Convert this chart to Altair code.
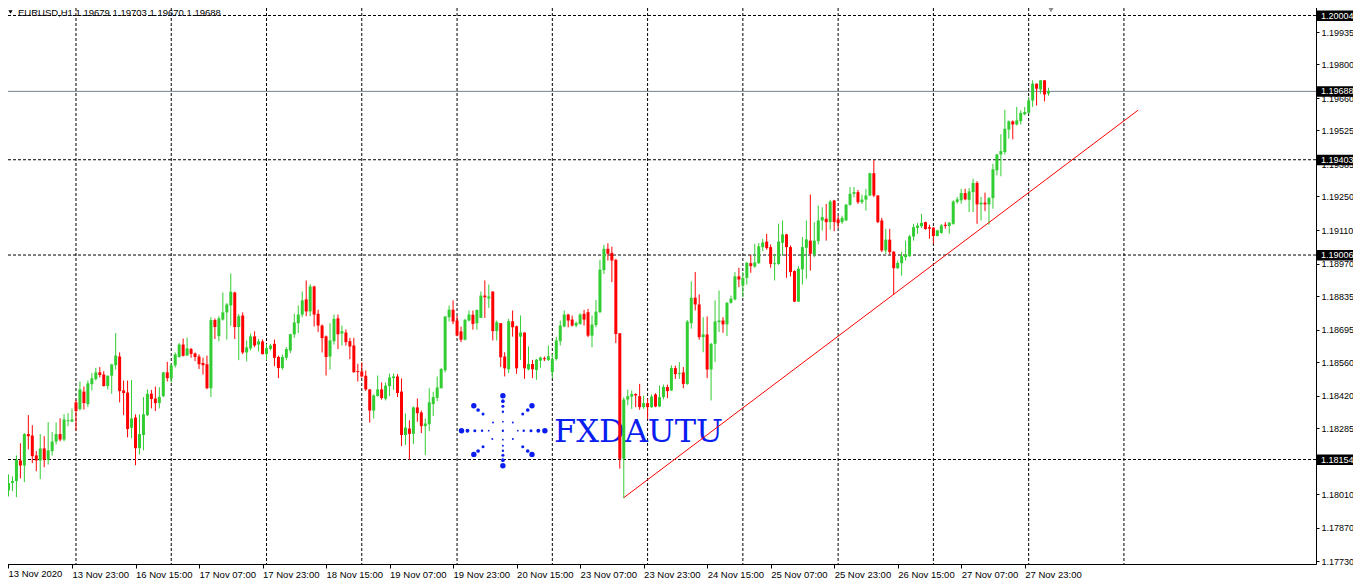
import altair as alt
import pandas as pd

# ---------------- data (EURUSD H1) ----------------
opens = [
    1.18025, 1.18056, 1.18064, 1.18150, 1.18129, 1.18260, 1.18254, 1.18171, 1.18150, 1.18200,
    1.18153, 1.18189, 1.18229, 1.18260, 1.18237, 1.18314, 1.18312, 1.18392, 1.18364, 1.18437,
    1.18385, 1.18468, 1.18489, 1.18517, 1.18508, 1.18460, 1.18503, 1.18547, 1.18583, 1.18442,
    1.18433, 1.18286, 1.18329, 1.18201, 1.18256, 1.18339, 1.18428, 1.18408, 1.18389, 1.18418,
    1.18517, 1.18492, 1.18546, 1.18581, 1.18633, 1.18587, 1.18614, 1.18596, 1.18583, 1.18556,
    1.18551, 1.18451, 1.18735, 1.18668, 1.18737, 1.18767, 1.18796, 1.18850, 1.18706, 1.18754,
    1.18600, 1.18617, 1.18667, 1.18633, 1.18646, 1.18593, 1.18615, 1.18636, 1.18581, 1.18535,
    1.18578, 1.18608, 1.18675, 1.18722, 1.18758, 1.18821, 1.18771, 1.18875, 1.18761, 1.18712,
    1.18667, 1.18583, 1.18647, 1.18742, 1.18679, 1.18683, 1.18647, 1.18629, 1.18522, 1.18521,
    1.18503, 1.18446, 1.18358, 1.18418, 1.18446, 1.18407, 1.18460, 1.18493, 1.18500, 1.18437,
    1.18256, 1.18283, 1.18261, 1.18371, 1.18350, 1.18293, 1.18301, 1.18385, 1.18411, 1.18451,
    1.18526, 1.18747, 1.18778, 1.18733, 1.18688, 1.18653, 1.18733, 1.18757, 1.18722, 1.18744,
    1.18837, 1.18825, 1.18854, 1.18689, 1.18722, 1.18583, 1.18530, 1.18730, 1.18709, 1.18666,
    1.18683, 1.18530, 1.18552, 1.18527, 1.18566, 1.18576, 1.18569, 1.18518, 1.18573, 1.18647,
    1.18708, 1.18758, 1.18737, 1.18712, 1.18719, 1.18761, 1.18768, 1.18670, 1.18714, 1.18768,
    1.18943, 1.19032, 1.19015, 1.18986, 1.18680, 1.18157, 1.18404, 1.18416, 1.18427, 1.18418,
    1.18372, 1.18389, 1.18372, 1.18425, 1.18375, 1.18414, 1.18456, 1.18442, 1.18535, 1.18510,
    1.18517, 1.18469, 1.18722, 1.18828, 1.18800, 1.18664, 1.18675, 1.18529, 1.18636, 1.18726,
    1.18733, 1.18717, 1.18807, 1.18821, 1.18917, 1.18879, 1.18911, 1.18972, 1.18958, 1.18972,
    1.19039, 1.19062, 1.19039, 1.18968, 1.18969, 1.19057, 1.19092, 1.19039, 1.18939, 1.18812,
    1.18946, 1.19036, 1.19066, 1.19008, 1.19064, 1.19150, 1.19157, 1.19143, 1.19233, 1.19154,
    1.19143, 1.19150, 1.19215, 1.19261, 1.19268, 1.19226, 1.19237, 1.19254, 1.19347, 1.19254,
    1.19150, 1.19025, 1.19070, 1.19020, 1.18951, 1.18972, 1.18997, 1.19001, 1.19083, 1.19119,
    1.19126, 1.19143, 1.19122, 1.19120, 1.19085, 1.19098, 1.19132, 1.19127, 1.19136, 1.19227,
    1.19234, 1.19264, 1.19236, 1.19268, 1.19306, 1.19217, 1.19224, 1.19217, 1.19243, 1.19359,
    1.19425, 1.19435, 1.19529, 1.19563, 1.19550, 1.19564, 1.19592, 1.19599, 1.19650, 1.19720,
    1.19696, 1.19734, 1.19679,
]
highs = [
    1.18092, 1.18083, 1.18171, 1.18222, 1.18264, 1.18339, 1.18297, 1.18189, 1.18260, 1.18251,
    1.18310, 1.18268, 1.18308, 1.18326, 1.18343, 1.18347, 1.18367, 1.18403, 1.18479, 1.18458,
    1.18483, 1.18514, 1.18536, 1.18539, 1.18522, 1.18504, 1.18553, 1.18681, 1.18600, 1.18483,
    1.18483, 1.18485, 1.18342, 1.18342, 1.18414, 1.18446, 1.18444, 1.18458, 1.18455, 1.18519,
    1.18561, 1.18553, 1.18600, 1.18639, 1.18658, 1.18662, 1.18619, 1.18600, 1.18592, 1.18578,
    1.18587, 1.18747, 1.18742, 1.18751, 1.18850, 1.18806, 1.18929, 1.18853, 1.18760, 1.18767,
    1.18650, 1.18679, 1.18688, 1.18657, 1.18654, 1.18636, 1.18636, 1.18654, 1.18587, 1.18592,
    1.18622, 1.18678, 1.18761, 1.18796, 1.18854, 1.18900, 1.18885, 1.18878, 1.18778, 1.18717,
    1.18671, 1.18722, 1.18758, 1.18758, 1.18712, 1.18696, 1.18661, 1.18661, 1.18553, 1.18558,
    1.18525, 1.18448, 1.18425, 1.18504, 1.18475, 1.18475, 1.18512, 1.18512, 1.18510, 1.18492,
    1.18346, 1.18317, 1.18375, 1.18408, 1.18358, 1.18325, 1.18451, 1.18436, 1.18500, 1.18535,
    1.18751, 1.18796, 1.18817, 1.18753, 1.18708, 1.18740, 1.18775, 1.18775, 1.18779, 1.18854,
    1.18900, 1.18883, 1.18854, 1.18733, 1.18722, 1.18601, 1.18740, 1.18775, 1.18712, 1.18754,
    1.18683, 1.18625, 1.18569, 1.18573, 1.18583, 1.18583, 1.18629, 1.18594, 1.18664, 1.18733,
    1.18775, 1.18761, 1.18754, 1.18729, 1.18764, 1.18777, 1.18782, 1.18754, 1.18819, 1.18986,
    1.19048, 1.19055, 1.19041, 1.18990, 1.18680, 1.18414, 1.18445, 1.18441, 1.18430, 1.18469,
    1.18420, 1.18407, 1.18425, 1.18430, 1.18462, 1.18466, 1.18466, 1.18546, 1.18545, 1.18560,
    1.18539, 1.18735, 1.18896, 1.18935, 1.18842, 1.18747, 1.18750, 1.18640, 1.18817, 1.18858,
    1.18747, 1.18810, 1.18837, 1.18935, 1.18953, 1.18935, 1.18976, 1.19007, 1.19053, 1.19056,
    1.19074, 1.19094, 1.19050, 1.19011, 1.19136, 1.19150, 1.19094, 1.19046, 1.18942, 1.18960,
    1.19081, 1.19150, 1.19258, 1.19143, 1.19212, 1.19205, 1.19219, 1.19236, 1.19236, 1.19170,
    1.19170, 1.19218, 1.19289, 1.19289, 1.19277, 1.19258, 1.19282, 1.19349, 1.19402, 1.19256,
    1.19161, 1.19115, 1.19115, 1.19022, 1.18983, 1.19020, 1.19066, 1.19090, 1.19136, 1.19139,
    1.19177, 1.19145, 1.19132, 1.19122, 1.19111, 1.19136, 1.19143, 1.19143, 1.19234, 1.19248,
    1.19282, 1.19282, 1.19285, 1.19324, 1.19314, 1.19248, 1.19266, 1.19248, 1.19386, 1.19428,
    1.19509, 1.19611, 1.19567, 1.19567, 1.19623, 1.19609, 1.19623, 1.19664, 1.19734, 1.19720,
    1.19734, 1.19734, 1.19703,
]
lows = [
    1.18000, 1.18022, 1.17997, 1.18075, 1.18060, 1.18196, 1.18139, 1.18105, 1.18072, 1.18122,
    1.18133, 1.18171, 1.18217, 1.18230, 1.18230, 1.18293, 1.18311, 1.18274, 1.18358, 1.18362,
    1.18372, 1.18442, 1.18483, 1.18496, 1.18458, 1.18446, 1.18428, 1.18529, 1.18392, 1.18339,
    1.18246, 1.18243, 1.18130, 1.18175, 1.18192, 1.18335, 1.18367, 1.18356, 1.18367, 1.18414,
    1.18479, 1.18475, 1.18537, 1.18578, 1.18583, 1.18586, 1.18578, 1.18564, 1.18531, 1.18508,
    1.18447, 1.18414, 1.18656, 1.18646, 1.18733, 1.18654, 1.18711, 1.18656, 1.18568, 1.18593,
    1.18563, 1.18608, 1.18622, 1.18604, 1.18592, 1.18567, 1.18608, 1.18543, 1.18493, 1.18528,
    1.18567, 1.18597, 1.18661, 1.18681, 1.18747, 1.18751, 1.18751, 1.18708, 1.18685, 1.18600,
    1.18504, 1.18529, 1.18633, 1.18614, 1.18629, 1.18629, 1.18572, 1.18515, 1.18479, 1.18496,
    1.18440, 1.18308, 1.18325, 1.18417, 1.18403, 1.18400, 1.18418, 1.18444, 1.18414, 1.18210,
    1.18214, 1.18153, 1.18218, 1.18311, 1.18264, 1.18172, 1.18272, 1.18335, 1.18397, 1.18450,
    1.18517, 1.18729, 1.18718, 1.18667, 1.18643, 1.18650, 1.18729, 1.18695, 1.18695, 1.18744,
    1.18744, 1.18786, 1.18650, 1.18650, 1.18539, 1.18500, 1.18514, 1.18666, 1.18511, 1.18569,
    1.18490, 1.18525, 1.18493, 1.18486, 1.18536, 1.18564, 1.18564, 1.18493, 1.18566, 1.18629,
    1.18705, 1.18705, 1.18708, 1.18705, 1.18715, 1.18712, 1.18664, 1.18622, 1.18705, 1.18764,
    1.18927, 1.18983, 1.18893, 1.18639, 1.18116, 1.17993, 1.18380, 1.18365, 1.18372, 1.18361,
    1.18365, 1.18323, 1.18369, 1.18372, 1.18372, 1.18405, 1.18410, 1.18439, 1.18490, 1.18490,
    1.18451, 1.18465, 1.18699, 1.18775, 1.18653, 1.18601, 1.18493, 1.18400, 1.18560, 1.18685,
    1.18682, 1.18668, 1.18803, 1.18817, 1.18872, 1.18831, 1.18883, 1.18932, 1.18953, 1.18969,
    1.19022, 1.19028, 1.18953, 1.18900, 1.18965, 1.19004, 1.18911, 1.18917, 1.18810, 1.18810,
    1.18883, 1.18907, 1.18941, 1.18997, 1.19050, 1.19108, 1.19066, 1.19111, 1.19105, 1.19119,
    1.19136, 1.19148, 1.19212, 1.19247, 1.19219, 1.19219, 1.19191, 1.19252, 1.19247, 1.19139,
    1.19018, 1.19011, 1.19008, 1.18841, 1.18948, 1.18920, 1.18983, 1.18999, 1.19066, 1.19094,
    1.19119, 1.19112, 1.19074, 1.19053, 1.19084, 1.19095, 1.19116, 1.19095, 1.19132, 1.19220,
    1.19220, 1.19234, 1.19185, 1.19185, 1.19136, 1.19150, 1.19189, 1.19132, 1.19199, 1.19338,
    1.19334, 1.19425, 1.19491, 1.19488, 1.19546, 1.19550, 1.19588, 1.19595, 1.19623, 1.19629,
    1.19678, 1.19646, 1.19670,
]
closes = [
    1.18056, 1.18064, 1.18153, 1.18129, 1.18260, 1.18251, 1.18168, 1.18150, 1.18200, 1.18153,
    1.18192, 1.18229, 1.18260, 1.18237, 1.18321, 1.18317, 1.18321, 1.18356, 1.18446, 1.18389,
    1.18471, 1.18492, 1.18517, 1.18506, 1.18460, 1.18503, 1.18550, 1.18587, 1.18439, 1.18431,
    1.18281, 1.18325, 1.18201, 1.18260, 1.18342, 1.18428, 1.18406, 1.18389, 1.18415, 1.18517,
    1.18493, 1.18546, 1.18592, 1.18633, 1.18586, 1.18617, 1.18594, 1.18581, 1.18551, 1.18547,
    1.18451, 1.18735, 1.18706, 1.18742, 1.18767, 1.18800, 1.18853, 1.18706, 1.18751, 1.18600,
    1.18621, 1.18667, 1.18629, 1.18646, 1.18593, 1.18618, 1.18629, 1.18578, 1.18535, 1.18581,
    1.18614, 1.18676, 1.18725, 1.18758, 1.18817, 1.18771, 1.18875, 1.18758, 1.18712, 1.18660,
    1.18581, 1.18650, 1.18740, 1.18676, 1.18688, 1.18643, 1.18625, 1.18518, 1.18518, 1.18500,
    1.18446, 1.18358, 1.18421, 1.18446, 1.18410, 1.18462, 1.18496, 1.18500, 1.18431, 1.18256,
    1.18287, 1.18261, 1.18371, 1.18347, 1.18293, 1.18304, 1.18392, 1.18414, 1.18454, 1.18531,
    1.18750, 1.18778, 1.18729, 1.18671, 1.18653, 1.18736, 1.18758, 1.18719, 1.18777, 1.18837,
    1.18830, 1.18833, 1.18689, 1.18726, 1.18580, 1.18534, 1.18730, 1.18705, 1.18534, 1.18683,
    1.18534, 1.18552, 1.18530, 1.18570, 1.18579, 1.18572, 1.18584, 1.18573, 1.18650, 1.18712,
    1.18758, 1.18733, 1.18712, 1.18723, 1.18758, 1.18737, 1.18670, 1.18716, 1.18770, 1.18945,
    1.19032, 1.19011, 1.18983, 1.18677, 1.18157, 1.18404, 1.18418, 1.18427, 1.18421, 1.18372,
    1.18389, 1.18372, 1.18416, 1.18375, 1.18414, 1.18456, 1.18439, 1.18535, 1.18510, 1.18514,
    1.18469, 1.18729, 1.18828, 1.18800, 1.18664, 1.18675, 1.18529, 1.18636, 1.18729, 1.18733,
    1.18717, 1.18807, 1.18824, 1.18917, 1.18904, 1.18911, 1.18974, 1.18960, 1.18975, 1.19042,
    1.19058, 1.19035, 1.18969, 1.18972, 1.19062, 1.19092, 1.19039, 1.18935, 1.18812, 1.18949,
    1.19039, 1.19071, 1.19011, 1.19066, 1.19150, 1.19164, 1.19143, 1.19229, 1.19143, 1.19139,
    1.19161, 1.19216, 1.19261, 1.19268, 1.19226, 1.19237, 1.19254, 1.19347, 1.19254, 1.19143,
    1.19025, 1.19070, 1.19018, 1.18951, 1.18973, 1.19001, 1.19008, 1.19084, 1.19122, 1.19129,
    1.19140, 1.19114, 1.19116, 1.19085, 1.19109, 1.19129, 1.19127, 1.19141, 1.19229, 1.19238,
    1.19264, 1.19238, 1.19271, 1.19306, 1.19217, 1.19224, 1.19217, 1.19243, 1.19363, 1.19425,
    1.19439, 1.19532, 1.19563, 1.19550, 1.19567, 1.19598, 1.19602, 1.19650, 1.19720, 1.19699,
    1.19734, 1.19675, 1.19688,
]

x_label_bars = [0, 16, 32, 48, 64, 80, 96, 112, 128, 144, 160, 176, 192, 208, 224, 240, 256]
x_labels = ["13 Nov 2020", "13 Nov 23:00", "16 Nov 15:00", "17 Nov 07:00", "17 Nov 23:00",
            "18 Nov 15:00", "19 Nov 07:00", "19 Nov 23:00", "20 Nov 15:00", "23 Nov 07:00",
            "23 Nov 23:00", "24 Nov 15:00", "25 Nov 07:00", "25 Nov 23:00", "26 Nov 15:00",
            "27 Nov 07:00", "27 Nov 23:00"]
y_ticks = [1.19935, 1.19800, 1.19660, 1.19525, 1.19385, 1.19250, 1.19110, 1.18970, 1.18835,
           1.18695, 1.18560, 1.18420, 1.18285, 1.18145, 1.18010, 1.17870, 1.17730]
day_bars = [17, 41, 65, 89, 113, 137, 161, 185, 209, 233, 257, 281]
level_prices = [1.20004, 1.19403, 1.19006, 1.18154]
bid_price = 1.19688
trend_bars = [155, 284.6]
trend_prices = [1.17995, 1.19610]
title_text = "EURUSD,H1  1.19679 1.19703 1.19670 1.19688"
watermark = "FXDAUTU"

# ---------------- tables ----------------
n = len(opens)
df = pd.DataFrame({"bar": list(range(n)), "open": opens, "high": highs,
                   "low": lows, "close": closes})
df["dir"] = ["up" if c >= o else "down" for o, c in zip(df["open"], df["close"])]
df["top"] = df[["open", "close"]].max(axis=1)
df["bot"] = df[["open", "close"]].min(axis=1)
thin = (df["top"] - df["bot"]) < 0.00004
mid = (df["top"] + df["bot"]) / 2
df.loc[thin, "top"] = mid[thin] + 0.00002
df.loc[thin, "bot"] = mid[thin] - 0.00002

W, H = 1314, 561
xs = alt.Scale(domain=[-0.375, 328.125], nice=False, zero=False)
ys = alt.Scale(domain=[1.177186, 1.200561], nice=False, zero=False)

# first label is drawn separately (kept inside the visible page)
label_js = ("datum.value < 1 ? '' : [" + ",".join("'%s'" % s for s in x_labels) +
            "][round(datum.value / 16)]")
x_axis = alt.Axis(values=x_label_bars, labelExpr=label_js, orient="bottom", labelAlign="left",
                  labelBaseline="top", labelFont="Liberation Sans", labelFontSize=9.5,
                  labelColor="black", tickColor="black", tickSize=4, domainColor="black",
                  labelPadding=1, labelOverlap=False, labelFlush=False, grid=False, title=None)
y_axis = alt.Axis(values=y_ticks, format=".5f", orient="right", labelFont="Liberation Sans",
                  labelFontSize=9, labelColor="black", tickColor="black", tickSize=3,
                  domainColor="black", labelPadding=2, labelOverlap=False, labelFlush=False,
                  grid=False, title=None)


def X(f):
    return alt.X(f, type="quantitative", scale=xs, axis=x_axis)


def Y(f):
    return alt.Y(f, type="quantitative", scale=ys, axis=y_axis)


col = alt.Color("dir:N", scale=alt.Scale(domain=["up", "down"], range=["#32CD32", "#FF0000"]),
                legend=None)

grid_v = alt.Chart(pd.DataFrame({"bar": day_bars})).mark_rule(
    color="black", strokeWidth=1, strokeDash=[3, 2]).encode(x=X("bar"))
levels_df = pd.DataFrame({"price": level_prices})
grid_h = alt.Chart(levels_df).mark_rule(
    color="black", strokeWidth=1, strokeDash=[3, 2]).encode(y=Y("price"))
bid = alt.Chart(pd.DataFrame({"price": [bid_price]})).mark_rule(
    color="#74808C", strokeWidth=1).encode(y=Y("price"))

# watermark logo (decoration): dots around a centre, pixel offsets
logo_dx = [0, -41.7, -35.7, -28.3, -21, -14.3, 42.3, 35.7, 28.3, 21, 15,
           0, 0, 0, 0, 0, 0, 0, 0, 0, 0, 0,
           -29.3, -25, -20, -10, 29.3, 25, 20, 10,
           -29.3, -25, -20, -10.7, 29.3, 25, 20, 10]
logo_dy = [0, 0, 0, 0, 0, 0, 0, 0, 0, 0, 0,
           -35, -29.5, -24.5, -19, -9, 9, 15, 20, 24.5, 29.5, 35,
           -25, -20.7, -16.7, -8.3, -25, -20.7, -16.7, -8.3,
           23.7, 20.3, 16, 8.3, 23.7, 20.3, 16, 8.3]
logo_d = [2.2, 5, 3.6, 2.8, 2.2, 1.6, 5, 3.6, 2.8, 2.2, 1.6,
          5, 3.4, 2.8, 2.2, 1.6, 1.6, 1.8, 2.2, 2.8, 3.4, 5,
          5, 3.4, 2.8, 1.8, 5, 3.4, 2.8, 1.8,
          5, 3.4, 2.8, 1.8, 5, 3.4, 2.8, 1.8]
cb, cp = 124.55, 1.18274
logo_df = pd.DataFrame({"bar": [cb + d / 4 for d in logo_dx],
                        "price": [cp - d / 24000 for d in logo_dy],
                        "s": [0.785 * d * d * 1.5 for d in logo_d]})
logo = alt.Chart(logo_df).mark_circle(color="#0A1EF0", opacity=1).encode(
    x=X("bar"), y=Y("price"), size=alt.Size("s:Q", scale=None))
wm = alt.Chart(pd.DataFrame({"t": [watermark]})).mark_text(
    align="left", baseline="alphabetic", font="DejaVu Serif", fontSize=32, color="#0A1EF0"
).encode(x=alt.value(552), y=alt.value(439), text="t:N")

wicks = alt.Chart(df).mark_rule(strokeWidth=1).encode(
    x=X("bar"), y=Y("low"), y2=alt.Y2("high"), color=col)
bodies = alt.Chart(df).mark_bar(width=3).encode(
    x=X("bar"), y=Y("bot"), y2=alt.Y2("top"), color=col)

trend = alt.Chart(pd.DataFrame({"bar": trend_bars, "price": trend_prices})).mark_line(
    color="#FF0000", strokeWidth=1).encode(x=X("bar"), y=Y("price"))

title_mark = alt.Chart(pd.DataFrame({"t": [title_text]})).mark_text(
    align="left", baseline="middle", font="Liberation Sans", fontSize=9.5, color="black"
).encode(x=alt.value(16), y=alt.value(9.8), text="t:N")
title_tri = alt.Chart(pd.DataFrame({"a": [0]})).mark_point(
    shape="triangle-down", filled=True, color="black", size=18, opacity=1
).encode(x=alt.value(8.5), y=alt.value(9))
shift_tri = alt.Chart(pd.DataFrame({"a": [0]})).mark_point(
    shape="triangle-down", filled=True, color="#8a8a8a", size=30, opacity=1
).encode(x=alt.value(1049), y=alt.value(7))

first_lab = alt.Chart(pd.DataFrame({"t": [x_labels[0]]})).mark_text(
    align="left", baseline="top", font="Liberation Sans", fontSize=9.5, color="black"
).encode(x=alt.value(6.5), y=alt.value(H + 5), text="t:N")

lab_df = pd.DataFrame({"price": level_prices + [bid_price]})
lab_df["txt"] = ["%.5f" % p for p in lab_df["price"]]
lab_box = alt.Chart(lab_df).mark_rect(color="black", yOffset=-5, y2Offset=5.5).encode(
    x=alt.value(1315), x2=alt.value(1352), y=Y("price"), y2=alt.Y2("price"))
lab_txt = alt.Chart(lab_df).mark_text(
    align="left", baseline="middle", font="Liberation Sans", fontSize=9, color="white"
).encode(x=alt.value(1319), y=Y("price"), text="txt:N")

chart = alt.layer(
    grid_v, grid_h, bid, logo, wm, wicks, bodies, trend,
    title_tri, title_mark, shift_tri, first_lab, lab_box, lab_txt
).properties(
    width=W, height=H,
    autosize=alt.AutoSizeParams(type="none"),
    padding={"left": -6, "top": -5, "right": 37, "bottom": 17},
    background="white"
).configure_view(stroke=None)

chart.save("out.html", embed_options={"renderer": "svg", "actions": False})
